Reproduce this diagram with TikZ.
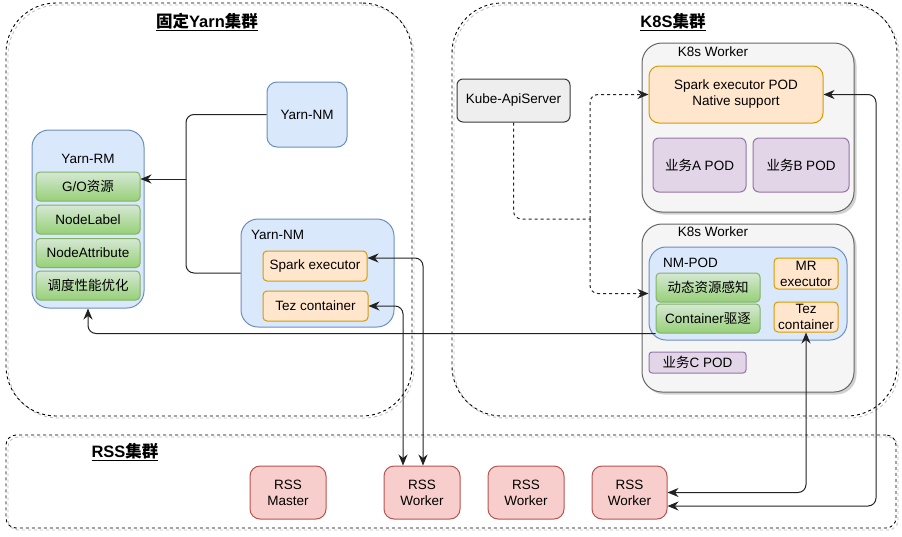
\documentclass[tikz,border=0pt]{standalone}
\usepackage{fontspec}
\setmainfont{Liberation Sans}
\newfontfamily\cjk{Noto Sans CJK SC}
\newcommand{\zh}[1]{{\cjk #1}}
\usetikzlibrary{arrows.meta,shadows,calc}
\definecolor{blueF}{HTML}{DAE8FC}\definecolor{blueD}{HTML}{6C8EBF}
\definecolor{greenT}{HTML}{D5E8D4}\definecolor{greenB}{HTML}{97D077}\definecolor{greenD}{HTML}{82B366}
\definecolor{orF}{HTML}{FFE6CC}\definecolor{orD}{HTML}{D79B00}
\definecolor{puF}{HTML}{E1D5E7}\definecolor{puD}{HTML}{9673A6}
\definecolor{reF}{HTML}{F8CECC}\definecolor{reD}{HTML}{B85450}
\definecolor{grF}{HTML}{F5F5F5}\definecolor{grD}{HTML}{666666}
\definecolor{kuF}{HTML}{EEEEEE}\definecolor{kuD}{HTML}{36393D}
\definecolor{lineC}{HTML}{222222}
\begin{document}
\begin{tikzpicture}[x=1pt,y=-1pt,
  every node/.style={inner sep=0pt, align=center, font=\fontsize{13.5}{16}\selectfont},
  sz/.style 2 args={minimum width=#1pt, minimum height=#2pt},
  cluster/.style={draw=black, line width=0.9pt, dash pattern=on 3pt off 3pt,
    general shadow={shadow xshift=2pt, shadow yshift=-2pt, draw=black!25, fill=none, dash pattern=on 3pt off 3pt}},
  bluebox/.style={draw=blueD, fill=blueF, line width=1pt},
  greenbox/.style={draw=greenD, top color=greenT, bottom color=greenB, line width=1pt, rounded corners=4pt},
  orbox/.style={draw=orD, fill=orF, line width=1pt, rounded corners=4pt},
  pubox/.style={draw=puD, fill=puF, line width=1pt, rounded corners=6pt},
  rebox/.style={draw=reD, fill=reF, line width=1pt, rounded corners=10pt},
  worker/.style={draw=grD, fill=grF, line width=1pt, rounded corners=20pt,
    drop shadow={shadow xshift=2.5pt, shadow yshift=-2.5pt, fill=black!30, opacity=0.6}},
  title/.style={font=\fontsize{16.5}{18}\selectfont\bfseries},
  conn/.style={draw=lineC, line width=1pt, rounded corners=8pt},
  tip/.style={-{Stealth[length=11pt,width=9pt,inset=3.5pt]}},
  tips/.style={{Stealth[length=11pt,width=9pt,inset=3.5pt]}-{Stealth[length=11pt,width=9pt,inset=3.5pt]}},
  dconn/.style={draw=lineC, line width=1pt, dash pattern=on 3pt off 3pt, rounded corners=8pt}
]
\useasboundingbox (0,0) rectangle (902,536);

% clusters
\node[cluster, rounded corners=50pt, sz={406}{413}] (yc) at (209,209.5) {};
\node[cluster, rounded corners=50pt, sz={445}{413}] (kc) at (674.5,209.5) {};
\node[cluster, rounded corners=10pt, sz={890}{93}] (rc) at (451,481.5) {};
\node[title] (yct) at (207,22) {\underline{\zh{固定}Yarn\zh{集群}}};
\node[title] (kct) at (673,22) {\underline{K8S\zh{集群}}};
\node[title] (rct) at (125,452) {\underline{RSS\zh{集群}}};

% Yarn side
\node[bluebox, rounded corners=10pt, sz={80}{65}] (nm1) at (307,114.5) {Yarn-NM};
\node[bluebox, rounded corners=17pt, sz={112}{178}] (rm) at (88,219) {};
\node (rmlbl) at (88,159) {Yarn-RM};
\node[greenbox, sz={104}{29}] (go) at (88,186.5) {G/O\zh{资源}};
\node[greenbox, sz={104}{29}] (nl) at (88,219.5) {NodeLabel};
\node[greenbox, sz={104}{29}] (na) at (88,253) {NodeAttribute};
\node[greenbox, sz={104}{29}] (dd) at (88,285.5) {\zh{调度性能优化}};
\node[bluebox, rounded corners=17pt, sz={153}{108}] (nm2) at (317.5,273) {};
\node[anchor=west] (nm2lbl) at (251,235) {Yarn-NM};
\node[orbox, sz={104}{30}] (sp) at (315,266) {Spark executor};
\node[orbox, sz={105}{30}] (tz) at (315.5,306) {Tez container};

% K8S side
\node[draw=kuD, fill=kuF, line width=1pt, rounded corners=6pt, sz={113}{43}] (ku) at (513.5,100.5) {Kube-ApiServer};
\node[worker, sz={212}{169}] (w1) at (748,127.5) {};
\node (w1lbl) at (713,52) {K8s Worker};
\node[orbox, rounded corners=10pt, sz={174}{57}] (spod) at (736,94.5) {Spark executor POD\\Native support};
\node[pubox, sz={93}{54}] (ba) at (699.5,165) {\zh{业务}A POD};
\node[pubox, sz={96}{54}] (bb) at (801,165) {\zh{业务}B POD};
\node[worker, sz={212}{168}] (w2) at (748,308) {};
\node (w2lbl) at (713,232) {K8s Worker};
\node[bluebox, rounded corners=17pt, sz={198}{93}] (nmp) at (748,293.5) {};
\node (nmplbl) at (690.5,263) {NM-POD};
\node[greenbox, sz={104}{29}] (dyn) at (708,287.5) {\zh{动态资源感知}};
\node[greenbox, sz={104}{29}] (ev) at (708,318.5) {Container\zh{驱逐}};
\node[orbox, sz={64}{31}] (mr) at (806,273.5) {MR\\executor};
\node[orbox, sz={64}{30}] (tz2) at (806,317) {Tez\\container};
\node[pubox, rounded corners=3pt, sz={97}{21}] (bc) at (697.5,362.5) {\zh{业务}C POD};

% RSS
\node[rebox, sz={76}{53}] (rm0) at (288,492.5) {RSS\\Master};
\node[rebox, sz={76}{53}] (rw1) at (422,492.5) {RSS\\Worker};
\node[rebox, sz={76}{53}] (rw2) at (526,492.5) {RSS\\Worker};
\node[rebox, sz={75}{53}] (rw3) at (629.5,492.5) {RSS\\Worker};

% connectors
\coordinate (j) at (186,179);
\draw[conn] (nm1.west) -| (j);
\draw[conn] (nm2.west) -| (j);
\draw[conn, tip] (j) -- ([yshift=7.5pt]go.east);
\draw[conn, tip] (ev.south west) -| (rm.south);
\draw[conn, tips] ([yshift=8pt]sp.east) -| ([xshift=1pt]rw1.north);
\draw[conn, tips] (tz.east) -| ([xshift=-19pt]rw1.north);
\draw[conn, tips] (rw3.east) -| (tz2.south);
\coordinate (rr) at (876,94.5);
\draw[conn, tips] ([yshift=-13.5pt]rw3.east) -| (rr) -- (spod.east);
\coordinate (jd) at (590,219);
\draw[dconn] (ku.south) |- (jd);
\draw[dconn, tip] (jd) |- (spod.west);
\draw[dconn, tip] (jd) |- (nmp.west);
\end{tikzpicture}
\end{document}
